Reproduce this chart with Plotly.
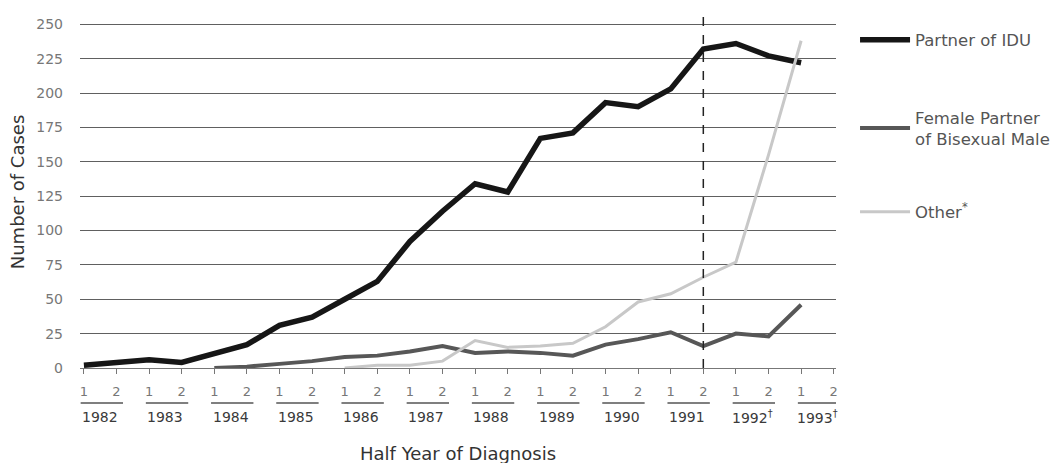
import plotly.graph_objects as go

# ---- data ----
years = ["1982", "1983", "1984", "1985", "1986", "1987", "1988", "1989",
         "1990", "1991", "1992<sup>†</sup>", "1993<sup>†</sup>"]
halves = ["1", "2"] * len(years)
idx = list(range(len(halves)))  # half-year positions 1982-1 ... 1993-2

partner_idu = [2, 4, 6, 4, 11, 17, 31, 37, 50, 63, 92, 114, 134, 128,
               167, 171, 193, 190, 203, 232, 236, 227, 222, None]
female_bisexual = [None, None, None, None, 0, 1, 3, 5, 8, 9, 12, 16, 11, 12,
                   11, 9, 17, 21, 26, 16, 25, 23, 46, None]
other = [None, None, None, None, None, None, None, None, 0, 2, 2, 5, 20, 15,
         16, 18, 30, 48, 54, 66, 77, 155, 238, None]

y_ticks = [0, 25, 50, 75, 100, 125, 150, 175, 200, 225, 250]

FONT = "DejaVu Sans, Liberation Sans, Arial, sans-serif"

fig = go.Figure()
fig.add_trace(go.Scatter(x=idx, y=partner_idu, mode="lines", name="Partner of IDU",
                         line=dict(color="#161616", width=5.5), legend="legend",
                         showlegend=True))
fig.add_trace(go.Scatter(x=idx, y=female_bisexual, mode="lines",
                         name="Female Partner<br>of Bisexual Male",
                         line=dict(color="#575757", width=4), legend="legend2",
                         showlegend=True))
fig.add_trace(go.Scatter(x=idx, y=other, mode="lines", name="Other<sup>*</sup>",
                         line=dict(color="#c8c8c8", width=3), legend="legend3",
                         showlegend=True))

# dashed reference line at 1991 second half
fig.add_vline(x=19, line=dict(color="#222222", width=1.5, dash="dash"))

# year labels and their rules under the half-year ticks
for k, yr in enumerate(years):
    fig.add_annotation(x=2 * k + 0.5, y=-0.139, xref="x", yref="paper", text=yr,
                       showarrow=False, yanchor="middle",
                       font=dict(family=FONT, size=14, color="#3a3a3a"))
    fig.add_shape(type="line", xref="x", yref="paper", x0=2 * k - 0.1, x1=2 * k + 1.2,
                  y0=-0.0994, y1=-0.0994, line=dict(color="#555555", width=1.5))

fig.add_annotation(x=0.5, y=-0.244, xref="paper", yref="paper",
                   text="Half Year of Diagnosis", showarrow=False, yanchor="middle",
                   font=dict(family=FONT, size=18, color="#333333"))

legend_common = dict(xref="container", yref="container", x=0.8074,
                     xanchor="left", yanchor="middle", bgcolor="rgba(0,0,0,0)",
                     font=dict(family=FONT, size=16.5, color="#555555"), itemwidth=50)

fig.update_layout(
    width=1059, height=463,
    showlegend=True,
    margin=dict(l=80, r=223, t=16, b=95, autoexpand=False),
    paper_bgcolor="white", plot_bgcolor="white",
    font=dict(family=FONT),
    legend=dict(y=0.9136, **legend_common),
    legend2=dict(y=0.7235, **legend_common),
    legend3=dict(y=0.5421, **legend_common),
    xaxis=dict(range=[-0.12, 23.07], tickmode="array", tickvals=idx, ticktext=halves,
               showgrid=False, zeroline=False, showline=True, linecolor="#777777",
               linewidth=1, ticks="outside", ticklen=5, tickcolor="#777777",
               ticklabelstandoff=6,
               tickfont=dict(family=FONT, size=13, color="#777777")),
    yaxis=dict(range=[0, 256], tickmode="array", tickvals=y_ticks,
               showgrid=True, gridcolor="#606060", gridwidth=1, zeroline=False,
               showline=False, ticks="", ticklabelstandoff=16,
               tickfont=dict(family=FONT, size=14, color="#777777"),
               title=dict(text="Number of Cases", standoff=6,
                          font=dict(family=FONT, size=18, color="#333333"))),
)

fig.write_html("out.html", config={"displayModeBar": False},
               post_script="document.body.style.margin='0';document.body.style.overflow='hidden';")
